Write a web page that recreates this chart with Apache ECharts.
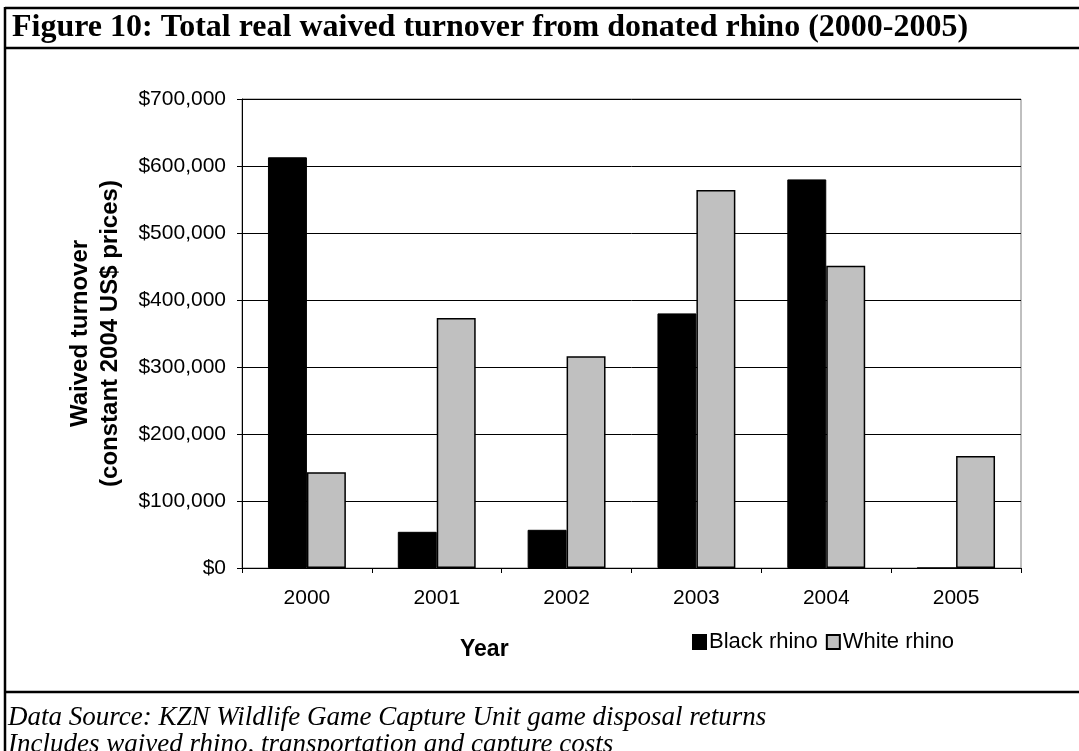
<!DOCTYPE html>
<html>
<head>
<meta charset="utf-8">
<title>Figure 10</title>
<script src="https://cdn.jsdelivr.net/npm/echarts/dist/echarts.min.js"></script>
<style>
	html, body { margin: 0; padding: 0; background: #fff; }
	#main { width: 1079px; height: 751px; }
</style>
</head>
<body>
<div id="main"></div>
<script>
var years = ['2000', '2001', '2002', '2003', '2004', '2005'];
var blackRhino = [613000, 54000, 57000, 380000, 580000, 0];
var whiteRhino = [143000, 373000, 316000, 564000, 451000, 167000];
var seriesNames = ['Black rhino', 'White rhino'];

var titleText = 'Figure 10: Total real waived turnover from donated rhino (2000-2005)';
var footNotes = ['Data Source: KZN Wildlife Game Capture Unit game disposal returns',
	'Includes waived rhino, transportation and capture costs'];

function money(v) { //$700,000
	return '$' + String(v).replace(/\B(?=(\d{3})+(?!\d))/g, ',');
}

var myChart = echarts.init(document.getElementById('main'));
var sans = 'Liberation Sans, Arial, sans-serif';
var serif = 'Liberation Serif, Times New Roman, serif';

var option = {
	backgroundColor: '#fff',
	animation: false,
	title: [{
			text: titleText,
			left: 7,
			top: 7,
			textStyle: {
				fontFamily: serif,
				fontWeight: 'bold',
				fontSize: 32,
				color: '#000'
			}
		},
		{
			text: footNotes[0] + '\n' + footNotes[1],
			left: 3,
			top: 699,
			textStyle: {
				fontFamily: serif,
				fontStyle: 'italic',
				fontWeight: 'normal',
				fontSize: 27,
				lineHeight: 27,
				color: '#000'
			}
		}
	],
	legend: {
		data: seriesNames,
		left: 687,
		top: 626,
		icon: 'rect',
		itemWidth: 13,
		itemHeight: 14,
		itemGap: 8,
		textStyle: {
			fontFamily: sans,
			fontSize: 22,
			color: '#000',
			padding: [0, 0, 0, -2]
		}
	},
	grid: {
		left: 242,
		right: 58,
		top: 99,
		bottom: 183,
		show: true,
		borderColor: '#808080',
		borderWidth: 1
	},
	xAxis: {
		type: 'category',
		data: years,
		axisLine: { lineStyle: { color: '#000', width: 1 } },
		axisTick: { show: true, length: 5, lineStyle: { color: '#000' } },
		axisLabel: {
			margin: 20,
			fontFamily: sans,
			fontSize: 21,
			color: '#000'
		}
	},
	yAxis: {
		type: 'value',
		min: 0,
		max: 700000,
		interval: 100000,
		name: 'Waived turnover\n(constant 2004 US$ prices)',
		nameLocation: 'middle',
		nameRotate: 90,
		nameGap: 117,
		nameTextStyle: {
			fontFamily: sans,
			fontWeight: 'bold',
			fontSize: 24,
			lineHeight: 30,
			color: '#000'
		},
		axisLine: { show: true, lineStyle: { color: '#000', width: 1 } },
		axisTick: { show: true, length: 5, lineStyle: { color: '#000' } },
		axisLabel: {
			margin: 16,
			fontFamily: sans,
			fontSize: 21,
			color: '#000',
			formatter: money
		},
		splitLine: { lineStyle: { color: '#000', width: 1 } }
	},
	series: [{
			name: seriesNames[0],
			type: 'bar',
			data: blackRhino,
			barGap: '0%',
			barCategoryGap: '40%',
			itemStyle: { color: '#000', borderColor: '#000', borderWidth: 1 }
		},
		{
			name: seriesNames[1],
			type: 'bar',
			data: whiteRhino,
			itemStyle: { color: '#c0c0c0', borderColor: '#000', borderWidth: 1.5 }
		}
	],
	graphic: [
		// frame lines round the figure
		{ type: 'line', shape: { x1: 5, y1: 8, x2: 1079, y2: 8 }, style: { stroke: '#000', lineWidth: 2.5 } },
		{ type: 'line', shape: { x1: 5, y1: 48, x2: 1079, y2: 48 }, style: { stroke: '#000', lineWidth: 2.5 } },
		{ type: 'line', shape: { x1: 5, y1: 692, x2: 1079, y2: 692 }, style: { stroke: '#000', lineWidth: 2.5 } },
		{ type: 'line', shape: { x1: 5, y1: 7, x2: 5, y2: 751 }, style: { stroke: '#000', lineWidth: 2.5 } },
		{
			type: 'text',
			left: 460,
			top: 638,
			style: {
				text: 'Year',
				font: 'bold 23px ' + sans,
				fill: '#000'
			}
		}
	]
};

myChart.setOption(option);
</script>
</body>
</html>
